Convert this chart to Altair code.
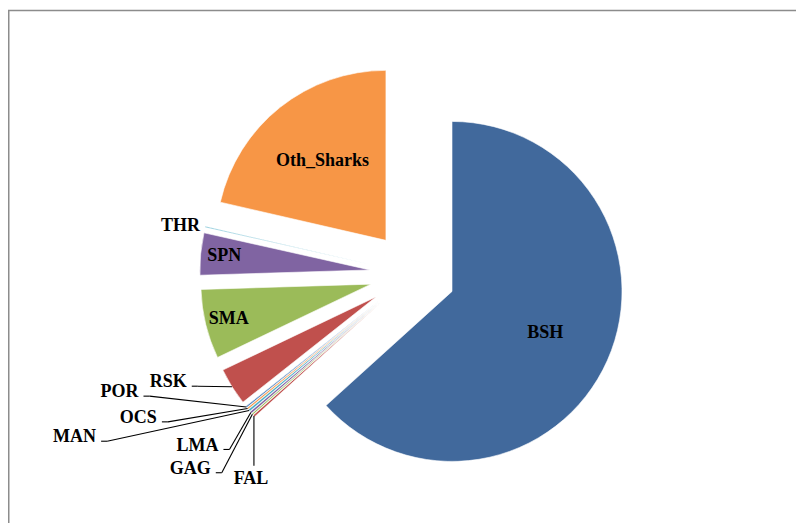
import altair as alt
import pandas as pd

# ---- data (share of catch, %) ----
categories = ["BSH", "FAL", "GAG", "LMA", "MAN", "OCS", "POR",
              "RSK", "SMA", "SPN", "THR", "Oth_Sharks"]
shares = [63.3, 0.2, 0.15, 0.2, 0.2, 0.16, 0.15, 3.56, 6.6, 4.0, 0.1, 21.4]

# ---- styles ----
colors = ["#41699C", "#C0504D", "#9BBB59", "#8064A2", "#4BACC6", "#F79646",
          "#4F81BD", "#C0504D", "#9BBB59", "#8064A2", "#4BACC6", "#F79646"]

# ---- layout ----
W, H = 788, 515
CX, CY = 404.7, 266.0          # pie centre inside the view (px)
R = 170                        # radius
EXPLODE = 43                   # explode distance
FONT = "Liberation Serif"
FSIZE = 18

# outside-label placement: offset of label (right edge, middle) from slice tip, leader type
label_layout = {
    "RSK": (-45.2, -4.3, "h"),
    "POR": (-107.8, -14.6, "h"),
    "OCS": (-90.7, 9.5, "h"),
    "MAN": (-153.0, 27.0, "h"),
    "LMA": (-32.4, 33.2, "h"),
    "GAG": (-41.6, 54.7, "h"),
    "FAL": (14.4, 62.7, "v"),
    "THR": (-5.0, -0.8, "none"),
}

df = pd.DataFrame({"cat": categories, "share": shares, "order": list(range(len(categories)))})
df["mode"] = ["outside" if c in label_layout else "inside" for c in categories]
df["ox"] = [label_layout.get(c, (0, 0, "none"))[0] for c in categories]
df["oy"] = [label_layout.get(c, (0, 0, "none"))[1] for c in categories]
df["lead"] = [label_layout.get(c, (0, 0, "none"))[2] for c in categories]

TOTAL = sum(shares)

xs = alt.Scale(domain=[-CX, W - CX], range=[0, W], nice=False, zero=False)
ys = alt.Scale(domain=[-CY, H - CY], reverse=True, nice=False, zero=False)

base = (
    alt.Chart(df)
    .transform_window(cum="sum(share)", sort=[alt.SortField("order")], frame=[None, 0])
    .transform_calculate(
        t0="datum.cum - datum.share",
        mid=f"2*PI*(datum.cum - datum.share/2)/{TOTAL}",
    )
    .transform_calculate(
        vx=f"{EXPLODE}*sin(datum.mid)",
        vy=f"-{EXPLODE}*cos(datum.mid)",
        tipx=f"{EXPLODE + R}*sin(datum.mid)",
        tipy=f"-{EXPLODE + R}*cos(datum.mid)",
        rf="datum.share > 10 ? 0.6 : 0.86",
    )
    .transform_calculate(
        lx=f"datum.mode == 'inside' ? datum.vx + datum.rf*{R}*sin(datum.mid) : datum.tipx + datum.ox",
        ly=f"datum.mode == 'inside' ? datum.vy - datum.rf*{R}*cos(datum.mid) : datum.tipy + datum.oy",
    )
    .transform_calculate(
        sx="datum.lead == 'v' ? datum.tipx : datum.lx + 5",
        sy="datum.lead == 'v' ? datum.ly - 13 : datum.ly + 3.8",
    )
    .transform_calculate(
        ex="datum.lead == 'v' ? datum.sx : datum.sx + 6",
        ey="datum.sy",
    )
)

arcs = base.mark_arc(radius=R, stroke="white", strokeWidth=0.6).encode(
    theta=alt.Theta("t0:Q", scale=alt.Scale(domain=[0, TOTAL], range=[0, 6.283185307179586]), stack=None),
    theta2=alt.Theta2("cum:Q"),
    x=alt.X("vx:Q", scale=xs, axis=None),
    y=alt.Y("vy:Q", scale=ys, axis=None),
    color=alt.Color("cat:N", scale=alt.Scale(domain=categories, range=colors), legend=None),
)

inside_text = base.transform_filter("datum.mode == 'inside'").mark_text(
    font=FONT, fontSize=FSIZE, fontWeight="bold", color="black", align="center", baseline="middle"
).encode(
    x=alt.X("lx:Q", scale=xs, axis=None),
    y=alt.Y("ly:Q", scale=ys, axis=None),
    text="cat:N",
)

outside_text = base.transform_filter("datum.mode == 'outside'").mark_text(
    font=FONT, fontSize=FSIZE, fontWeight="bold", color="black", align="right", baseline="middle"
).encode(
    x=alt.X("lx:Q", scale=xs, axis=None),
    y=alt.Y("ly:Q", scale=ys, axis=None),
    text="cat:N",
)

lead1 = base.transform_filter("datum.lead != 'none'").mark_rule(color="black", strokeWidth=1.1).encode(
    x=alt.X("sx:Q", scale=xs, axis=None),
    y=alt.Y("sy:Q", scale=ys, axis=None),
    x2="ex:Q",
    y2="ey:Q",
)

lead2 = base.transform_filter("datum.lead != 'none'").mark_rule(color="black", strokeWidth=1.1).encode(
    x=alt.X("ex:Q", scale=xs, axis=None),
    y=alt.Y("ey:Q", scale=ys, axis=None),
    x2="tipx:Q",
    y2="tipy:Q",
)

frame_df = pd.DataFrame({"k": [0]})
frame_top = alt.Chart(frame_df).mark_rule(color="#8C8C8C", strokeWidth=1.5).encode(
    x=alt.value(0), x2=alt.value(W), y=alt.value(2.5)
)
frame_left = alt.Chart(frame_df).mark_rule(color="#8C8C8C", strokeWidth=1.5).encode(
    x=alt.value(0.75), y=alt.value(2.5), y2=alt.value(H)
)

chart = (
    alt.layer(frame_top, frame_left, arcs, lead1, lead2, inside_text, outside_text)
    .properties(width=W, height=H, autosize=alt.AutoSizeParams(type="none"), padding=0)
    .configure_view(stroke=None)
)

chart.save("out.html", embed_options={"renderer": "svg", "actions": False})
